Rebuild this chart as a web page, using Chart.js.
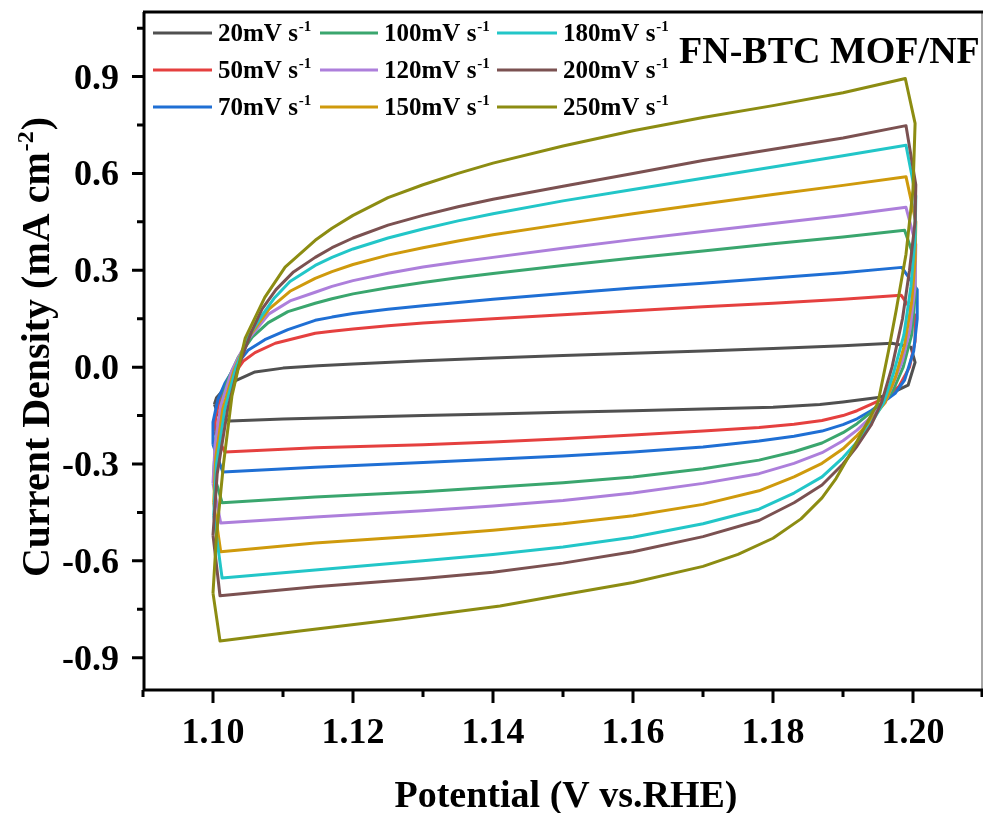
<!DOCTYPE html>
<html>
<head>
<meta charset="utf-8">
<script src="https://cdn.jsdelivr.net/npm/chart.js@4.4.1/dist/chart.umd.min.js"></script>
<style>
  html, body { margin: 0; padding: 0; background: #fff; }
  canvas { display: block; }
</style>
</head>
<body>
<canvas id="cv-chart" width="983" height="813"></canvas>
<script>
// scan rates (legend) and colours
const scanRates = ['20', '50', '70', '100', '120', '150', '180', '200', '250'];
const lineColors = ['#505050', '#e5403f', '#1f6fd4', '#3aa66e', '#ad7fdb', '#cf9a0c', '#22c6c8', '#7b5151', '#8c8c12'];

// axis ticks
const xMajor = [1.10, 1.12, 1.14, 1.16, 1.18, 1.20];
const xMinor = [1.09, 1.11, 1.13, 1.15, 1.17, 1.19, 1.21];
const yMajor = [-0.9, -0.6, -0.3, 0.0, 0.3, 0.6, 0.9];
const yMinor = [-0.75, -0.45, -0.15, 0.15, 0.45, 0.75, 1.05];

// CV loops, [potential V, current density mA cm-2]
const cv20 = [[1.1002,-0.115],[1.1005,-0.095],[1.1015,-0.07],[1.1034,-0.04],[1.106,-0.015],[1.110,-0.003],[1.115,0.004],[1.120,0.01],[1.130,0.02],[1.140,0.028],[1.150,0.036],[1.160,0.043],[1.170,0.05],[1.180,0.058],[1.190,0.066],[1.197,0.074],[1.1997,0.062],[1.2003,0.015],[1.1993,-0.056],[1.197,-0.08],[1.1953,-0.093],[1.190,-0.108],[1.1867,-0.116],[1.180,-0.124],[1.170,-0.13],[1.160,-0.135],[1.150,-0.14],[1.140,-0.145],[1.130,-0.15],[1.120,-0.155],[1.110,-0.161],[1.1024,-0.167],[1.1008,-0.15],[1.1002,-0.115]];
const cv50 = [[1.1002,-0.20],[1.1004,-0.15],[1.101,-0.10],[1.1022,-0.05],[1.1034,-0.01],[1.1043,0.018],[1.106,0.045],[1.1089,0.074],[1.1146,0.105],[1.117,0.111],[1.120,0.118],[1.125,0.128],[1.130,0.137],[1.140,0.15],[1.150,0.162],[1.160,0.175],[1.170,0.187],[1.180,0.198],[1.190,0.21],[1.1983,0.223],[1.2003,0.16],[1.2003,0.08],[1.1995,0.0],[1.198,-0.06],[1.196,-0.095],[1.194,-0.115],[1.192,-0.135],[1.190,-0.15],[1.187,-0.165],[1.183,-0.177],[1.178,-0.187],[1.170,-0.198],[1.160,-0.21],[1.150,-0.222],[1.140,-0.232],[1.130,-0.24],[1.1146,-0.25],[1.1017,-0.263],[1.1002,-0.20]];
const cv70 = [[1.1000,-0.24],[1.1000,-0.17],[1.1007,-0.10],[1.1017,-0.05],[1.1031,0.0],[1.105,0.052],[1.1074,0.085],[1.1107,0.116],[1.1146,0.145],[1.117,0.155],[1.120,0.166],[1.125,0.179],[1.130,0.19],[1.140,0.21],[1.150,0.228],[1.160,0.245],[1.170,0.26],[1.180,0.276],[1.190,0.292],[1.1984,0.309],[1.2006,0.24],[1.2006,0.15],[1.2001,0.05],[1.1988,-0.04],[1.1975,-0.08],[1.1963,-0.10],[1.194,-0.135],[1.192,-0.16],[1.190,-0.178],[1.187,-0.198],[1.183,-0.214],[1.178,-0.229],[1.170,-0.247],[1.160,-0.263],[1.150,-0.275],[1.140,-0.285],[1.130,-0.295],[1.1146,-0.31],[1.1014,-0.325],[1.1000,-0.24]];
const cv100 = [[1.1001,-0.33],[1.1004,-0.22],[1.1013,-0.10],[1.1021,-0.04],[1.1036,0.03],[1.1056,0.093],[1.1079,0.138],[1.1107,0.172],[1.1146,0.198],[1.117,0.212],[1.120,0.227],[1.125,0.246],[1.130,0.262],[1.135,0.277],[1.140,0.29],[1.150,0.315],[1.160,0.338],[1.170,0.36],[1.180,0.382],[1.190,0.403],[1.1988,0.424],[1.2003,0.33],[1.2003,0.22],[1.1998,0.10],[1.1986,0.0],[1.1972,-0.07],[1.196,-0.105],[1.194,-0.14],[1.192,-0.175],[1.190,-0.203],[1.187,-0.235],[1.183,-0.262],[1.178,-0.288],[1.170,-0.315],[1.160,-0.34],[1.150,-0.358],[1.140,-0.372],[1.130,-0.386],[1.1146,-0.402],[1.1013,-0.42],[1.1001,-0.33]];
const cv120 = [[1.1000,-0.36],[1.1003,-0.24],[1.1011,-0.12],[1.1027,-0.01],[1.1048,0.08],[1.108,0.165],[1.111,0.205],[1.1146,0.232],[1.117,0.25],[1.120,0.268],[1.125,0.291],[1.130,0.31],[1.135,0.326],[1.140,0.34],[1.150,0.368],[1.160,0.395],[1.170,0.42],[1.180,0.445],[1.190,0.47],[1.199,0.495],[1.2004,0.38],[1.2003,0.25],[1.1996,0.12],[1.1985,0.02],[1.197,-0.06],[1.196,-0.11],[1.194,-0.155],[1.192,-0.195],[1.190,-0.228],[1.187,-0.265],[1.183,-0.298],[1.178,-0.33],[1.170,-0.36],[1.160,-0.39],[1.150,-0.413],[1.140,-0.43],[1.130,-0.445],[1.1146,-0.464],[1.1011,-0.483],[1.1000,-0.36]];
const cv150 = [[1.1001,-0.42],[1.1004,-0.28],[1.1014,-0.13],[1.103,-0.01],[1.105,0.09],[1.108,0.18],[1.111,0.235],[1.1146,0.275],[1.117,0.296],[1.120,0.318],[1.125,0.347],[1.130,0.37],[1.135,0.391],[1.140,0.41],[1.150,0.443],[1.160,0.475],[1.170,0.505],[1.180,0.535],[1.190,0.563],[1.199,0.59],[1.2004,0.45],[1.2003,0.33],[1.1998,0.20],[1.1988,0.07],[1.1975,-0.03],[1.196,-0.11],[1.194,-0.165],[1.192,-0.212],[1.190,-0.253],[1.187,-0.298],[1.183,-0.34],[1.178,-0.383],[1.170,-0.425],[1.160,-0.46],[1.150,-0.485],[1.140,-0.505],[1.130,-0.522],[1.1146,-0.545],[1.1011,-0.572],[1.1001,-0.42]];
const cv180 = [[1.1001,-0.46],[1.1005,-0.30],[1.1017,-0.13],[1.1033,0.0],[1.1052,0.10],[1.107,0.16],[1.1088,0.215],[1.111,0.265],[1.1146,0.315],[1.117,0.34],[1.120,0.366],[1.125,0.40],[1.130,0.428],[1.135,0.453],[1.140,0.475],[1.150,0.515],[1.160,0.55],[1.170,0.585],[1.180,0.62],[1.190,0.655],[1.199,0.687],[1.2004,0.53],[1.2003,0.40],[1.1997,0.25],[1.1987,0.10],[1.1972,-0.02],[1.1958,-0.11],[1.194,-0.175],[1.192,-0.232],[1.190,-0.28],[1.187,-0.34],[1.183,-0.39],[1.178,-0.44],[1.170,-0.485],[1.160,-0.527],[1.150,-0.557],[1.140,-0.58],[1.130,-0.60],[1.1146,-0.628],[1.1013,-0.653],[1.1001,-0.46]];
const cv200 = [[1.1000,-0.52],[1.1006,-0.33],[1.1021,-0.13],[1.1036,0.0],[1.1055,0.11],[1.107,0.18],[1.109,0.24],[1.1115,0.295],[1.1146,0.34],[1.117,0.37],[1.120,0.40],[1.125,0.44],[1.130,0.47],[1.135,0.497],[1.140,0.52],[1.150,0.56],[1.160,0.60],[1.170,0.64],[1.180,0.675],[1.190,0.71],[1.199,0.748],[1.2004,0.565],[1.2003,0.45],[1.1995,0.30],[1.1985,0.15],[1.197,0.0],[1.1955,-0.11],[1.194,-0.18],[1.192,-0.245],[1.190,-0.30],[1.187,-0.365],[1.183,-0.42],[1.178,-0.475],[1.170,-0.525],[1.160,-0.572],[1.150,-0.607],[1.140,-0.635],[1.130,-0.655],[1.1146,-0.68],[1.101,-0.708],[1.1000,-0.52]];
const cv250 = [[1.1000,-0.70],[1.1005,-0.52],[1.1015,-0.30],[1.1027,-0.09],[1.1046,0.09],[1.1074,0.216],[1.1103,0.31],[1.1146,0.393],[1.117,0.43],[1.120,0.47],[1.125,0.525],[1.130,0.565],[1.135,0.60],[1.140,0.632],[1.150,0.685],[1.160,0.732],[1.170,0.773],[1.180,0.81],[1.190,0.85],[1.1989,0.894],[1.2003,0.755],[1.2000,0.55],[1.1990,0.35],[1.1976,0.176],[1.1965,0.05],[1.195,-0.11],[1.193,-0.19],[1.191,-0.27],[1.189,-0.345],[1.187,-0.405],[1.184,-0.47],[1.180,-0.53],[1.175,-0.58],[1.170,-0.617],[1.160,-0.667],[1.150,-0.705],[1.141,-0.74],[1.1267,-0.78],[1.1124,-0.817],[1.101,-0.848],[1.1000,-0.70]];

const loops = [cv20, cv50, cv70, cv100, cv120, cv150, cv180, cv200, cv250];

const SERIF = "'Liberation Serif', 'Times New Roman', serif";

function textWithSup(ctx, x, y, base, sup, size, supSize, rise, after) {
    ctx.font = 'bold ' + size + 'px ' + SERIF;
    ctx.fillText(base, x, y);
    let w = ctx.measureText(base).width;
    ctx.font = 'bold ' + supSize + 'px ' + SERIF;
    ctx.fillText(sup, x + w + 1, y - rise);
    w += ctx.measureText(sup).width + 1;
    if (after) {
        ctx.font = 'bold ' + size + 'px ' + SERIF;
        ctx.fillText(after, x + w + 1, y);
    }
}

function supWidth(ctx, base, sup, size, supSize, after) {
    ctx.font = 'bold ' + size + 'px ' + SERIF;
    let w = ctx.measureText(base).width + (after ? ctx.measureText(after).width + 1 : 0);
    ctx.font = 'bold ' + supSize + 'px ' + SERIF;
    return w + ctx.measureText(sup).width + 1;
}

const decorPlugin = {
    id: 'decor',
    afterDraw(chart) {
        const ctx = chart.ctx;
        const area = chart.chartArea;
        const xs = chart.scales.x;
        const ys = chart.scales.y;
        ctx.save();
        ctx.fillStyle = '#000';

        // frame: heavy left, bottom and top, thin grey right
        ctx.lineWidth = 1.5;
        ctx.strokeStyle = '#888';
        ctx.beginPath();
        ctx.moveTo(area.right - 1, area.top);
        ctx.lineTo(area.right - 1, area.bottom);
        ctx.stroke();
        ctx.strokeStyle = '#000';
        ctx.lineWidth = 3;
        ctx.beginPath();
        ctx.moveTo(area.left, area.top);
        ctx.lineTo(area.right, area.top);
        ctx.moveTo(area.left + 1, area.top);
        ctx.lineTo(area.left + 1, area.bottom + 1.5);
        ctx.moveTo(area.left, area.bottom);
        ctx.lineTo(area.right, area.bottom);
        ctx.stroke();

        // outward ticks
        ctx.beginPath();
        xMajor.forEach(v => { const p = xs.getPixelForValue(v); ctx.moveTo(p, area.bottom); ctx.lineTo(p, area.bottom + 13); });
        xMinor.forEach(v => { const p = Math.min(xs.getPixelForValue(v), area.right - 1); ctx.moveTo(p, area.bottom); ctx.lineTo(p, area.bottom + 7); });
        yMajor.forEach(v => { const p = ys.getPixelForValue(v); ctx.moveTo(area.left, p); ctx.lineTo(area.left - 11, p); });
        yMinor.forEach(v => { const p = ys.getPixelForValue(v); ctx.moveTo(area.left, p); ctx.lineTo(area.left - 6, p); });
        ctx.stroke();

        // tick labels
        ctx.font = 'bold 36px ' + SERIF;
        ctx.textBaseline = 'alphabetic';
        ctx.textAlign = 'center';
        xMajor.forEach(v => ctx.fillText(v.toFixed(2), xs.getPixelForValue(v), 743));
        ctx.textAlign = 'right';
        yMajor.forEach(v => ctx.fillText(v.toFixed(1), 119, ys.getPixelForValue(v) + 12));

        // axis titles
        ctx.textAlign = 'center';
        ctx.font = 'bold 38px ' + SERIF;
        ctx.fillText('Potential (V vs.RHE)', (area.left + area.right) / 2 + 3, 807);

        ctx.save();
        ctx.translate(49, 347);
        ctx.rotate(-Math.PI / 2);
        ctx.textAlign = 'left';
        const tw = supWidth(ctx, 'Current Density (mA cm', '-2', 40, 24, ')');
        textWithSup(ctx, -tw / 2, 0, 'Current Density (mA cm', '-2', 40, 24, 16, ')');
        ctx.restore();

        // sample label
        ctx.textAlign = 'left';
        ctx.font = 'bold 38px ' + SERIF;
        ctx.fillText('FN-BTC MOF/NF', 679, 63);

        // legend, 3 columns of 3
        const colLine = [[153, 212], [320, 378], [497, 557]];
        const colText = [218, 384, 563];
        const rowY = [33, 70, 107];
        chart.data.datasets.forEach((ds, i) => {
            const c = Math.floor(i / 3), r = i % 3;
            ctx.strokeStyle = ds.borderColor;
            ctx.lineWidth = 3;
            ctx.beginPath();
            ctx.moveTo(colLine[c][0], rowY[r]);
            ctx.lineTo(colLine[c][1], rowY[r]);
            ctx.stroke();
            ctx.fillStyle = '#000';
            textWithSup(ctx, colText[c], rowY[r] + 8, ds.label + 'mV s', '-1', 25, 15, 10);
        });
        ctx.restore();
    }
};

new Chart(document.getElementById('cv-chart'), {
    type: 'line',
    data: {
        datasets: loops.map((pts, i) => ({
            label: scanRates[i],
            data: pts.map(p => ({ x: p[0], y: p[1] })),
            borderColor: lineColors[i],
            borderWidth: 3,
            borderJoinStyle: 'round',
            pointRadius: 0,
            tension: 0,
            fill: false,
            order: loops.length - i
        }))
    },
    options: {
        responsive: false,
        animation: false,
        layout: { padding: { top: 12, right: 0, bottom: 0, left: 0 } },
        plugins: {
            legend: { display: false },
            tooltip: { enabled: false }
        },
        scales: {
            x: {
                type: 'linear',
                min: 1.09,
                max: 1.21,
                grid: { display: false },
                border: { display: false },
                ticks: { display: false },
                afterFit(scale) { scale.height = 123; }
            },
            y: {
                type: 'linear',
                min: -1.0,
                max: 1.1,
                grid: { display: false },
                border: { display: false },
                ticks: { display: false },
                afterFit(scale) { scale.width = 143; }
            }
        }
    },
    plugins: [decorPlugin]
});
</script>
</body>
</html>
